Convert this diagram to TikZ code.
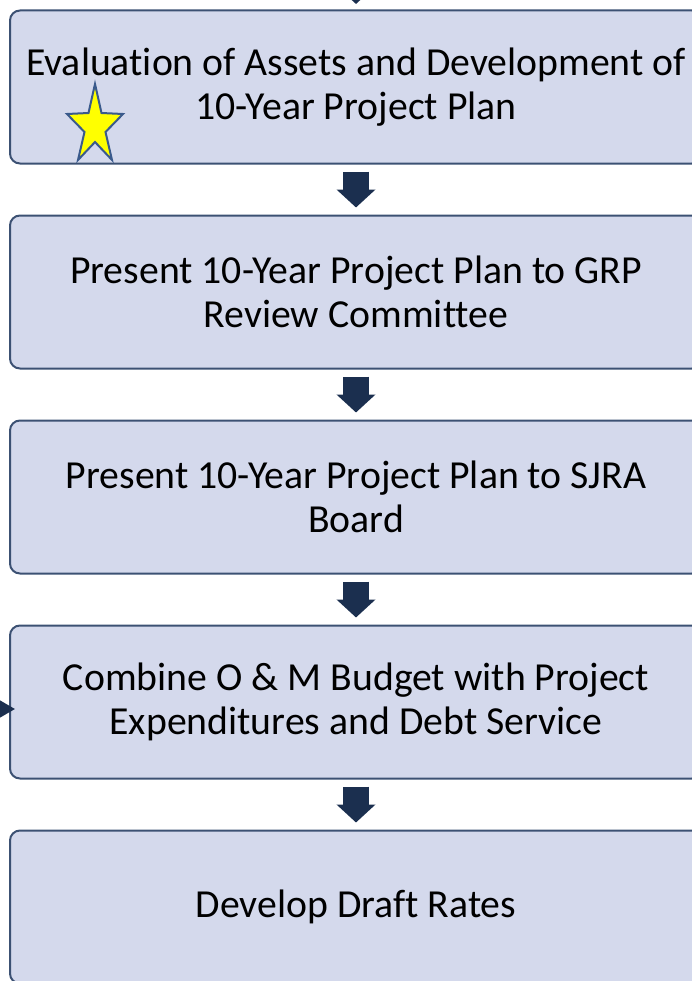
\documentclass[tikz,border=0pt]{standalone}
\usepackage{fontspec}
\setmainfont[Ligatures=NoCommon]{Carlito}
\usetikzlibrary{arrows.meta,calc}
\definecolor{boxfill}{HTML}{D4D9EC}
\definecolor{boxline}{HTML}{3C5173}
\definecolor{arrowc}{HTML}{1B2F4F}
\definecolor{starfill}{HTML}{FFFF00}
\definecolor{starline}{HTML}{3A5A8C}
\tikzset{
  stepbox/.style={draw=boxline, fill=boxfill, line width=1.5pt, rounded corners=7.5pt,
    minimum width=519pt, minimum height=114.75pt, inner sep=0pt, align=center,
    font=\fontsize{29.8}{32.5}\selectfont, text=black},
  blockarrow/.style={draw=arrowc, line width=19.5pt,
    -{Triangle[width=28.5pt,length=13.5pt]}},
  sidearrow/.style={draw=arrowc, line width=2.25pt,
    -{Triangle[width=15pt,length=13.5pt]}}
}
\begin{document}
\begin{tikzpicture}[x=0.75pt,y=-0.75pt]
\useasboundingbox (0,0) rectangle (692,981);
\clip (0,0) rectangle (692,981);
\node[stepbox] (b1) at (356,87) {Evaluation of Assets and Development of\\10-Year Project Plan};
\node[stepbox] (b2) at (356,292) {Present 10-Year Project Plan to GRP\\Review Committee};
\node[stepbox] (b3) at (356,497) {Present 10-Year Project Plan to SJRA\\Board};
\node[stepbox] (b4) at (356,702) {Combine O \& M Budget with Project\\Expenditures and Debt Service};
\node[stepbox] (b5) at (356,907) {Develop Draft Rates};
\coordinate (top) at (356,-40);
\coordinate (toptip) at (356,4);
\coordinate (leftstart) at (-20,709);
\coordinate (lefttip) at (15,709);
\draw[blockarrow] (top) -- (toptip);
\draw[blockarrow] ($(b1.south)+(0,7)$) -- ($(b2.north)+(0,-7)$);
\draw[blockarrow] ($(b2.south)+(0,7)$) -- ($(b3.north)+(0,-7)$);
\draw[blockarrow] ($(b3.south)+(0,7)$) -- ($(b4.north)+(0,-7)$);
\draw[blockarrow] ($(b4.south)+(0,7)$) -- ($(b5.north)+(0,-7)$);
\draw[sidearrow] (leftstart) -- (lefttip);
\draw[fill=starfill, draw=starline, line width=1.5pt, line join=miter]
  (95,84) -- (88.5,113) -- (67,114) -- (84.5,132) -- (78,160) -- (95,142)
  -- (112,160) -- (105.5,132) -- (123,114) -- (101.5,113) -- cycle;
\end{tikzpicture}
\end{document}
